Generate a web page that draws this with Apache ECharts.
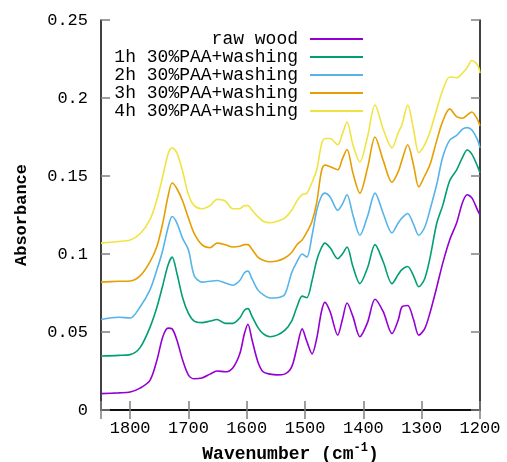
<!DOCTYPE html>
<html>
<head>
<meta charset="utf-8">
<script src="https://cdn.jsdelivr.net/npm/echarts@6/dist/echarts.min.js"></script>
<style>html,body{margin:0;padding:0;background:#fff}#c{width:507px;height:462px}</style>
</head>
<body>
<div id="c"></div>
<script>
var wavenumbers = [1850,1820,1800,1783,1766,1754,1744,1735,1728,1720,1710,1700,1690,1677,1663,1651,1637,1624,1612,1604,1598,1591,1581,1572,1560,1548,1535,1523,1514,1505,1497,1488,1480,1472,1466,1457,1444,1436,1428,1418,1406,1393,1380,1366,1351,1340,1334,1324,1314,1305,1295,1286,1274,1264,1252,1240,1230,1222,1214,1204,1200];

var rawWood = [0.0105,0.011,0.0115,0.014,0.019,0.032,0.047,0.0525,0.052,0.045,0.032,0.0224,0.020,0.0205,0.023,0.025,0.0245,0.027,0.036,0.049,0.055,0.045,0.031,0.0245,0.023,0.0225,0.023,0.0276,0.040,0.052,0.044,0.036,0.046,0.063,0.069,0.063,0.048,0.058,0.0686,0.060,0.047,0.056,0.071,0.063,0.049,0.058,0.066,0.067,0.058,0.048,0.052,0.062,0.079,0.094,0.109,0.120,0.133,0.138,0.136,0.128,0.125];

var paa1h = [0.0346,0.035,0.0355,0.040,0.053,0.066,0.080,0.093,0.098,0.088,0.072,0.062,0.057,0.056,0.057,0.058,0.0555,0.0555,0.059,0.064,0.065,0.060,0.053,0.049,0.047,0.048,0.051,0.057,0.066,0.073,0.072,0.083,0.096,0.104,0.107,0.104,0.097,0.100,0.1045,0.092,0.081,0.091,0.106,0.095,0.081,0.087,0.090,0.092,0.086,0.079,0.084,0.097,0.120,0.131,0.147,0.154,0.162,0.1667,0.164,0.156,0.152];

var paa2h = [0.058,0.0595,0.059,0.066,0.077,0.090,0.1026,0.117,0.124,0.120,0.110,0.1026,0.086,0.082,0.0825,0.083,0.0814,0.080,0.083,0.088,0.089,0.084,0.077,0.074,0.0718,0.072,0.074,0.088,0.095,0.100,0.098,0.112,0.128,0.137,0.139,0.1365,0.128,0.132,0.138,0.125,0.112,0.124,0.139,0.126,0.1135,0.120,0.123,0.126,0.119,0.112,0.117,0.128,0.145,0.162,0.173,0.176,0.180,0.181,0.1795,0.173,0.168];

var paa3h = [0.082,0.0825,0.0827,0.086,0.095,0.105,0.120,0.137,0.1455,0.142,0.134,0.123,0.113,0.106,0.104,0.107,0.106,0.1045,0.105,0.106,0.106,0.103,0.098,0.096,0.095,0.0955,0.0974,0.101,0.106,0.109,0.114,0.121,0.133,0.153,0.157,0.156,0.154,0.161,0.167,0.152,0.139,0.155,0.175,0.160,0.146,0.153,0.160,0.170,0.157,0.143,0.150,0.157,0.173,0.185,0.193,0.188,0.187,0.189,0.191,0.186,0.182];

var paa4h = [0.107,0.108,0.109,0.113,0.122,0.135,0.150,0.164,0.168,0.165,0.153,0.138,0.131,0.129,0.131,0.135,0.134,0.129,0.129,0.131,0.131,0.128,0.124,0.121,0.120,0.121,0.123,0.128,0.134,0.138,0.139,0.146,0.154,0.170,0.174,0.174,0.170,0.177,0.1846,0.170,0.159,0.175,0.1955,0.180,0.168,0.178,0.1827,0.1955,0.180,0.165,0.170,0.178,0.193,0.205,0.2135,0.213,0.216,0.2195,0.224,0.221,0.216];

var seriesNames = ['raw wood','1h 30%PAA+washing','2h 30%PAA+washing','3h 30%PAA+washing','4h 30%PAA+washing'];
var seriesColors = ['#9400d3','#009e73','#56b4e9','#e69f00','#f0e442'];
var seriesValues = [rawWood, paa1h, paa2h, paa3h, paa4h];
var xTicks = [1200,1300,1400,1500,1600,1700,1800];
var yTicks = [0,0.05,0.1,0.15,0.2,0.25];

var FONT = 'Liberation Mono';
var chart = echarts.init(document.getElementById('c'), null, {renderer:'canvas'});

function pairs(vals){ return vals.map(function(v,i){ return [wavenumbers[i], v]; }); }

var tickStyle = {show:true, inside:true, length:9, lineStyle:{color:'#808080', width:1.5}};
var lineAx = {show:true, lineStyle:{color:'#000', width:1.5}};

var option = {
  animation:false,
  backgroundColor:'#fff',
  textStyle:{fontFamily:FONT},
  grid:{left:101, right:27, top:20, bottom:52, containLabel:false, outerBoundsMode:'none'},
  legend:{
    orient:'vertical', align:'right', right:144, top:30, padding:0,
    itemGap:0, itemWidth:53, itemHeight:2, icon:'rect',
    data:seriesNames,
    formatter:function(n){ var s=n; while(s.length<17) s=' '+s; return s; },
    textStyle:{fontFamily:FONT, fontSize:18, lineHeight:17, color:'#000', padding:[0,7,0,0]}
  },
  xAxis:[{
    type:'value', min:1200, max:1850, interval:100, inverse:true,
    axisLine:lineAx, axisTick:tickStyle, splitLine:{show:false},
    axisLabel:{fontFamily:FONT, fontSize:17, color:'#000', margin:10,
      formatter:function(v){ return xTicks.indexOf(v)>=0 ? String(v) : ''; }},
    name:'Wavenumber (cm{sup|-1})', nameLocation:'middle', nameGap:28,
    nameTextStyle:{fontFamily:FONT, fontSize:18, lineHeight:26, color:'#000', fontWeight:'bold',
      rich:{sup:{fontFamily:FONT, fontSize:12, fontWeight:'bold', verticalAlign:'top', lineHeight:10}}}
  },{
    type:'value', min:1200, max:1850, interval:100, inverse:true, position:'top',
    axisLine:lineAx, axisTick:tickStyle, axisLabel:{show:false}, splitLine:{show:false}
  }],
  yAxis:[{
    type:'value', min:0, max:0.25, interval:0.05,
    axisLine:lineAx, axisTick:tickStyle, splitLine:{show:false},
    axisLabel:{fontFamily:FONT, fontSize:17, color:'#000', margin:13,
      formatter:function(v){ return String(+v.toFixed(2)); }},
    name:'Absorbance', nameLocation:'middle', nameGap:71,
    nameTextStyle:{fontFamily:FONT, fontSize:17, color:'#000', fontWeight:'bold'}
  },{
    type:'value', min:0, max:0.25, interval:0.05, position:'right',
    axisLine:lineAx, axisTick:tickStyle, axisLabel:{show:false}, splitLine:{show:false}
  }],
  series: seriesValues.map(function(vals, i){
    return {
      name:seriesNames[i], type:'line', xAxisIndex:0, yAxisIndex:0,
      data:pairs(vals), showSymbol:false, symbol:'none', smooth:0.3,
      lineStyle:{color:seriesColors[i], width:1.6}, itemStyle:{color:seriesColors[i]}
    };
  })
};
chart.setOption(option);
</script>
</body>
</html>
